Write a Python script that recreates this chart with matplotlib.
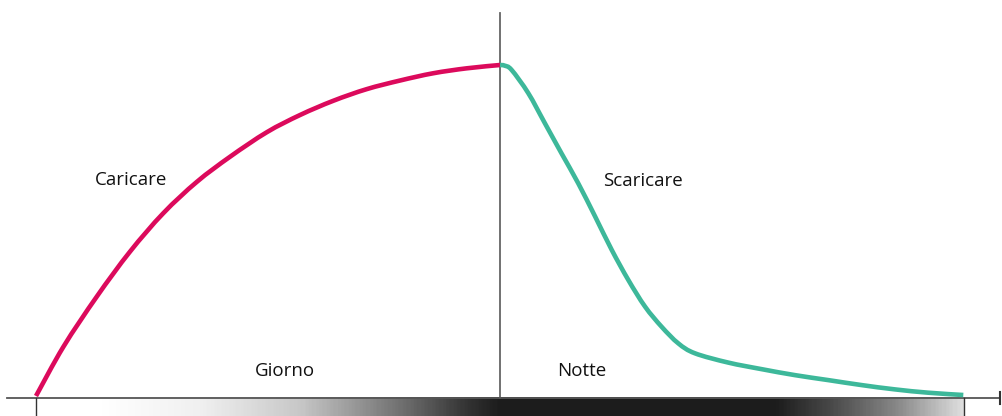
import numpy as np
import matplotlib.pyplot as plt
from matplotlib.colors import LinearSegmentedColormap
from matplotlib.path import Path
from matplotlib.patches import PathPatch

# time in hours (0 = dawn, 12 = dusk, 24 = next dawn), charge in %
charge_hours = [0, 0.71, 1.57, 2.43, 3.29, 4.16, 5.02, 5.97, 6.83, 7.69,
                8.55, 9.41, 10.27, 11.14, 12]
charge_level = [0, 14.9, 30.0, 43.6, 55.2, 64.7, 72.3, 79.7, 84.9, 89.2,
                92.7, 95.3, 97.5, 99.0, 100]

discharge_hours = [12, 12.12, 12.30, 12.73, 13.16, 13.59, 14.02, 14.46, 14.89,
                   15.32, 15.75, 16.18, 16.61, 17.04, 17.90, 18.77, 19.63,
                   20.49, 21.35, 22.21, 23.07, 23.98]
discharge_level = [100, 99.8, 98.5, 91.5, 82.4, 73.3, 64.3, 54.2, 44.1,
                   35.0, 27.0, 20.9, 15.9, 12.9, 10.1, 8.1, 6.3,
                   4.8, 3.3, 2.0, 1.0, 0.3]

labels = ["Caricare", "Scaricare", "Giorno", "Notte"]
label_pos = [(2.45, 65.3), (15.7, 65.0), (6.44, 7.7), (14.12, 7.7)]

# brightness of the day/night strip along the 24 h
strip_stops = [0, 0.069, 0.177, 0.284, 0.392, 0.464, 0.499, 0.798, 0.859, 0.931, 1.0]
strip_gray = [1.0, 1.0, 0.94, 0.78, 0.44, 0.2, 0.11, 0.11, 0.29, 0.54, 0.87]

PX_H = 38.67   # pixels per hour
PX_C = 3.31    # pixels per % charge


def smooth_path(xs, ys):
    # Catmull-Rom through the read points, expressed as cubic Bezier segments
    pts = np.column_stack([xs, ys]).astype(float)
    verts = [pts[0]]
    codes = [Path.MOVETO]
    n = len(pts)
    for i in range(n - 1):
        p0 = pts[max(i - 1, 0)]
        p1 = pts[i]
        p2 = pts[i + 1]
        p3 = pts[min(i + 2, n - 1)]
        verts += [p1 + (p2 - p0) / 6, p2 - (p3 - p1) / 6, p2]
        codes += [Path.CURVE4] * 3
    return Path(verts, codes)


def main() -> None:
    plt.rcParams["font.family"] = ["Open Sans", "DejaVu Sans"]
    fig = plt.figure(figsize=(10.02, 4.16), dpi=100)
    ax = fig.add_axes([0, 0, 1, 1])
    ax.set_xlim(-36 / PX_H, (1002 - 36) / PX_H)
    ax.set_ylim(-20 / PX_C, 396 / PX_C)
    ax.axis("off")

    cmap = LinearSegmentedColormap.from_list(
        "daynight", [(p, (g, g, g)) for p, g in zip(strip_stops, strip_gray)])
    grad = np.linspace(0, 1, 600).reshape(1, -1)
    ax.imshow(grad, cmap=cmap, aspect="auto", extent=(0, 24, -6.1, -0.6),
              interpolation="bilinear", zorder=1)

    axis_y = -1.5 / PX_C
    ax.plot([-29 / PX_H, 964 / PX_H], [axis_y, axis_y], color="#555555", lw=1.3, zorder=3)
    ax.plot([964 / PX_H, 964 / PX_H], [axis_y + 6 / PX_C, axis_y - 6 / PX_C],
            color="#333333", lw=1.5, zorder=3)
    for x in (0, 24):
        ax.plot([x, x], [axis_y, -6.2], color="#333333", lw=1.0, zorder=3)
    ax.plot([12, 12], [axis_y, 383 / PX_C], color="#666666", lw=1.3, zorder=2)

    for xs, ys, color in ((charge_hours, charge_level, "#dc0a5c"),
                          (discharge_hours, discharge_level, "#3db89a")):
        ax.add_patch(PathPatch(smooth_path(xs, ys), facecolor="none", edgecolor=color,
                               lw=3.3, capstyle="butt", zorder=4))

    for text, (x, y) in zip(labels, label_pos):
        ax.text(x, y, text, ha="center", va="center", fontsize=13.5, color="#111111")

    fig.savefig("out.png", dpi=100)
    plt.close(fig)


if __name__ == "__main__":
    main()
